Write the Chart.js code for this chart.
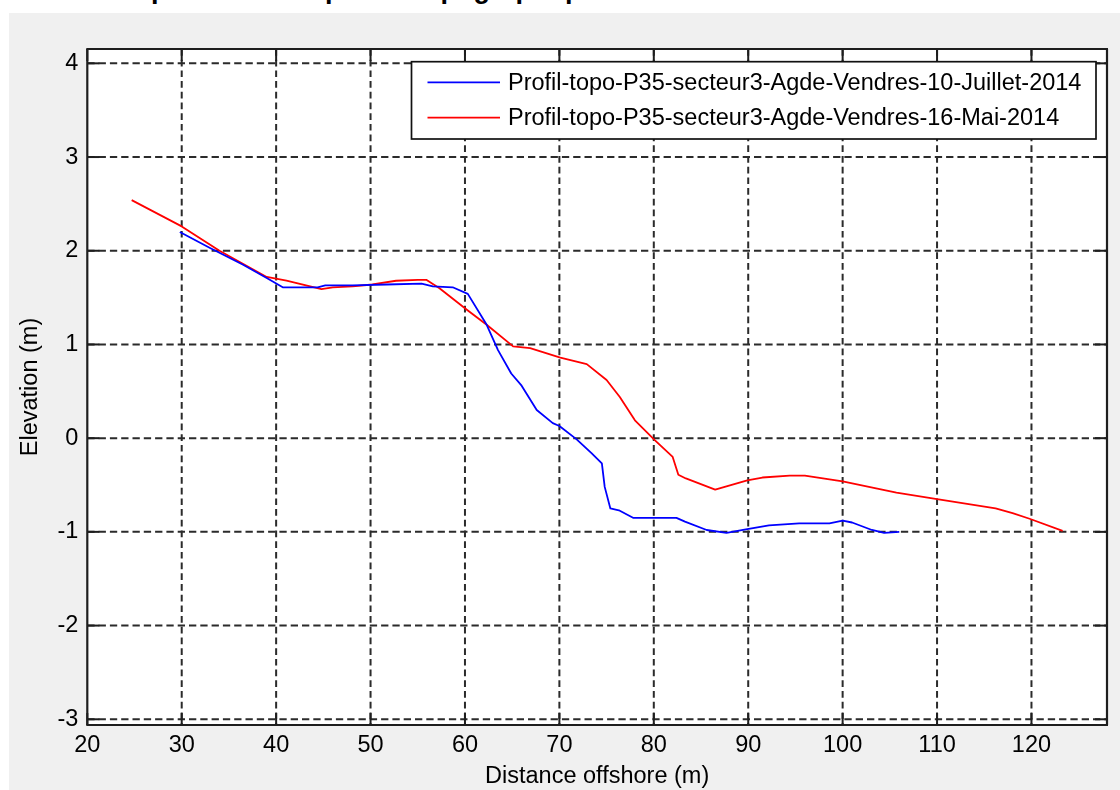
<!DOCTYPE html>
<html>
<head>
<meta charset="utf-8">
<title>Profil topo P35 - secteur 3 - Agde Vendres</title>
<script src="https://cdn.jsdelivr.net/npm/chart.js@4.4.0/dist/chart.umd.min.js"></script>
<style>
  html, body { margin: 0; padding: 0; background: #fff; overflow: hidden; }
  body { width: 1120px; height: 790px; position: relative; font-family: "Liberation Sans", Arial, sans-serif; }
  #title { position: absolute; left: 91px; top: -24.4px; font-size: 27px; line-height: 27px; font-weight: bold;
           white-space: nowrap; color: #000; }
  #panel { position: absolute; left: 9px; top: 13px; width: 1111px; height: 777px; background: #f0f0f0; }
</style>
</head>
<body>
<div id="title">Comparaison des profils topographiques</div>
<div id="panel">
  <canvas id="chart-profil" width="1111" height="777"></canvas>
</div>
<script>
// Axis ticks
const xTicks = [20, 30, 40, 50, 60, 70, 80, 90, 100, 110, 120];
const yTicks = [-3, -2, -1, 0, 1, 2, 3, 4];

// Profil du 10 juillet 2014 (bleu)
const distJuillet = [29.8, 33, 36.5, 39, 40.7, 44.4, 45.2, 48.1, 51.7, 55.4, 56.6, 58.7, 60.3, 62.3, 63.5,
    64.9, 66.0, 67.6, 69.3, 70.0, 71.8, 73.4, 74.5, 74.8, 75.4, 76.3, 77.8, 82.4, 83.3, 85.6,
    87.7, 89.9, 92.2, 95.4, 98.6, 100.0, 101.0, 103.1, 104.4, 106.0];
const elevJuillet = [2.20, 2.03, 1.85, 1.71, 1.61, 1.61, 1.63, 1.63, 1.64, 1.65, 1.62, 1.61, 1.54, 1.21, 0.94,
    0.69, 0.56, 0.30, 0.16, 0.13, -0.01, -0.16, -0.27, -0.52, -0.75, -0.77, -0.85, -0.85, -0.89, -0.98,
    -1.01, -0.97, -0.93, -0.91, -0.91, -0.88, -0.90, -0.98, -1.01, -1.00];

// Profil du 16 mai 2014 (rouge)
const distMai = [24.7, 30.0, 34.0, 39.0, 41.1, 43.6, 44.8, 46.0, 48.1, 50.2, 52.7, 55.0, 55.9, 57.3, 60.2,
    62.3, 65.1, 66.9, 70.1, 72.9, 75.0, 76.4, 78.0, 80.1, 82.0, 82.6, 83.4, 86.5, 89.9, 91.5,
    94.4, 96.0, 100.0, 105.7, 110.0, 116.2, 118.0, 119.8, 123.3];
const elevMai = [2.54, 2.26, 2.00, 1.72, 1.68, 1.62, 1.59, 1.61, 1.62, 1.64, 1.68, 1.69, 1.69, 1.60, 1.37,
    1.21, 0.98, 0.96, 0.86, 0.79, 0.62, 0.44, 0.19, -0.02, -0.20, -0.39, -0.43, -0.55, -0.45, -0.42,
    -0.40, -0.40, -0.46, -0.58, -0.65, -0.75, -0.80, -0.86, -0.99];

const labelJuillet = 'Profil-topo-P35-secteur3-Agde-Vendres-10-Juillet-2014';
const labelMai = 'Profil-topo-P35-secteur3-Agde-Vendres-16-Mai-2014';

const FONT = { family: '"Liberation Sans", Arial, sans-serif', size: 23.5 };
const toPoints = (xs, ys) => xs.map((x, i) => ({ x: x, y: ys[i] }));

function line(ctx, x1, y1, x2, y2) {
    ctx.beginPath();
    ctx.moveTo(x1, y1);
    ctx.lineTo(x2, y2);
    ctx.stroke();
}

// MATLAB-like axes: white box, dashed grid, inner ticks, boxed legend
const matlabAxes = {
    id: 'matlabAxes',
    beforeDraw(chart) {
        const { ctx, chartArea: a } = chart;
        ctx.save();
        ctx.fillStyle = '#ffffff';
        ctx.fillRect(a.left, a.top, a.right - a.left, a.bottom - a.top);
        ctx.restore();
    },
    beforeDatasetsDraw(chart) {
        const { ctx, chartArea: a, scales: { x, y } } = chart;
        ctx.save();
        ctx.strokeStyle = '#2b2b2b';
        ctx.lineWidth = 2;
        ctx.setLineDash([6.7, 4]);
        x.ticks.forEach(t => {
            const px = x.getPixelForValue(t.value);
            if (px > a.left + 1 && px < a.right - 1) line(ctx, px, a.top, px, a.bottom);
        });
        ctx.setLineDash([7.3, 4]);
        y.ticks.forEach(t => {
            const py = y.getPixelForValue(t.value);
            if (py > a.top + 1 && py < a.bottom - 1) line(ctx, a.left, py, a.right, py);
        });
        ctx.restore();
    },
    afterDatasetsDraw(chart) {
        const { ctx, chartArea: a, scales: { x, y } } = chart;
        ctx.save();
        ctx.strokeStyle = '#1e1e1e';
        // inner tick marks
        ctx.lineWidth = 2;
        x.ticks.forEach(t => {
            const px = x.getPixelForValue(t.value);
            line(ctx, px, a.top, px, a.top + 12);
            line(ctx, px, a.bottom, px, a.bottom - 12);
        });
        y.ticks.forEach(t => {
            const py = y.getPixelForValue(t.value);
            line(ctx, a.left, py, a.left + 12, py);
            line(ctx, a.right, py, a.right - 12, py);
        });
        // box
        ctx.lineWidth = 2.2;
        line(ctx, a.left - 1, a.top, a.right + 1, a.top);
        line(ctx, a.left - 1, a.bottom, a.right + 1, a.bottom);
        line(ctx, a.left, a.top, a.left, a.bottom);
        line(ctx, a.right, a.top, a.right, a.bottom);

        // legend
        const box = { left: 402.5, top: 48.7, right: 1087, bottom: 126 };
        ctx.fillStyle = '#ffffff';
        ctx.fillRect(box.left, box.top, box.right - box.left, box.bottom - box.top);
        ctx.strokeStyle = '#111';
        ctx.lineWidth = 1.7;
        ctx.strokeRect(box.left, box.top, box.right - box.left, box.bottom - box.top);
        ctx.font = FONT.size + 'px ' + FONT.family;
        ctx.textBaseline = 'middle';
        ctx.textAlign = 'left';
        chart.data.datasets.forEach((ds, i) => {
            const ly = 69.3 + i * 35.4;
            ctx.strokeStyle = ds.borderColor;
            ctx.lineWidth = 1.8;
            line(ctx, 418.5, ly, 491, ly);
            ctx.fillStyle = '#000';
            ctx.fillText(ds.label, 499, ly + 1);
        });
        ctx.restore();
    }
};

const chart = new Chart(document.getElementById('chart-profil'), {
    type: 'scatter',
    data: {
        datasets: [{
            label: labelJuillet,
            data: toPoints(distJuillet, elevJuillet),
            borderColor: '#0000ff',
            backgroundColor: '#0000ff',
            showLine: true,
            borderWidth: 1.8,
            pointRadius: 0,
            tension: 0,
            borderJoinStyle: 'round'
        }, {
            label: labelMai,
            data: toPoints(distMai, elevMai),
            borderColor: '#ff0000',
            backgroundColor: '#ff0000',
            showLine: true,
            borderWidth: 1.8,
            pointRadius: 0,
            tension: 0,
            borderJoinStyle: 'round'
        }]
    },
    options: {
        responsive: false,
        devicePixelRatio: 1,
        animation: false,
        events: [],
        layout: { padding: { top: 36, right: 13, left: 0, bottom: 0 } },
        plugins: { legend: { display: false }, tooltip: { enabled: false } },
        scales: {
            x: {
                type: 'linear',
                min: 20,
                max: 128,
                afterBuildTicks: s => { s.ticks = xTicks.map(v => ({ value: v })); },
                afterFit: s => { s.height = 65; },
                grid: { display: false, drawTicks: false },
                border: { display: false },
                ticks: { font: FONT, color: '#000', padding: 6, maxRotation: 0, autoSkip: false },
                title: { display: true, text: 'Distance offshore (m)', font: FONT, color: '#000',
                         padding: { top: 0, bottom: -1 } }
            },
            y: {
                type: 'linear',
                min: -3.061,
                max: 4.153,
                afterBuildTicks: s => { s.ticks = yTicks.map(v => ({ value: v })); },
                afterFit: s => { s.width = 78.3; },
                grid: { display: false, drawTicks: false },
                border: { display: false },
                ticks: { font: FONT, color: '#000', padding: 9, autoSkip: false },
                title: { display: true, text: 'Elevation (m)', font: FONT, color: '#000',
                         padding: { top: 7.4, bottom: 0 } }
            }
        }
    },
    plugins: [matlabAxes]
});
</script>
</body>
</html>
